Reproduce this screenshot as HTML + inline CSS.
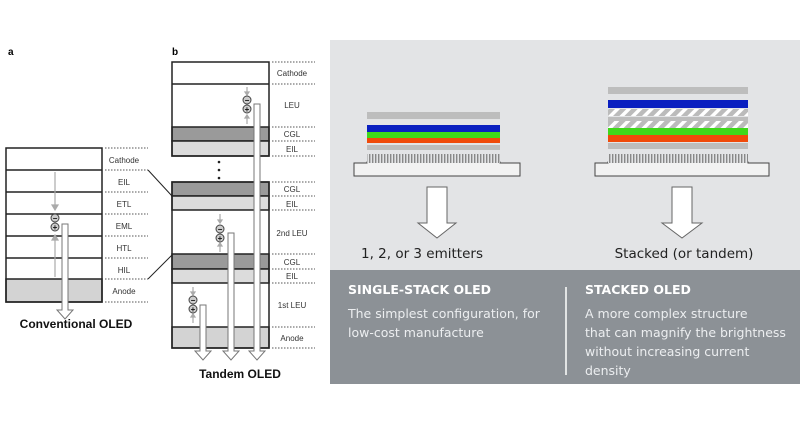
<!DOCTYPE html>
<html><head><meta charset="utf-8"><style>
html,body{margin:0;padding:0;background:#fff;}
svg{display:block;font-family:"Liberation Sans",Arial,sans-serif;}
</style></head><body>
<svg width="800" height="424" viewBox="0 0 800 424" xmlns="http://www.w3.org/2000/svg">
<defs>
<pattern id="hatch" width="8" height="8" patternUnits="userSpaceOnUse" patternTransform="rotate(45)">
<rect width="8" height="8" fill="#bbb"/><rect width="3.5" height="8" fill="#fff"/></pattern>
<pattern id="fins" x="0" y="0" width="3" height="8" patternUnits="userSpaceOnUse">
<rect width="3" height="8" fill="#e3e4e6"/><rect width="1.4" height="8" fill="#888"/></pattern>
</defs>
<rect width="800" height="424" fill="#fff"/>
<text x="8" y="55" font-size="10" font-weight="bold">a</text>
<text x="172" y="55" font-size="10" font-weight="bold">b</text>

<!-- Conventional OLED -->
<g stroke="#222" stroke-width="1.5">
<rect x="6" y="279" width="96" height="23" fill="#d3d3d3"/>
<rect x="6" y="148" width="96" height="154" fill="none"/>
<line x1="6" y1="170" x2="102" y2="170"/><line x1="6" y1="192" x2="102" y2="192"/>
<line x1="6" y1="214" x2="102" y2="214"/><line x1="6" y1="236" x2="102" y2="236"/>
<line x1="6" y1="258" x2="102" y2="258"/>
</g>
<g stroke="#555" stroke-width="1" stroke-dasharray="1.5,1.5">
<line x1="105" y1="148" x2="148" y2="148"/><line x1="105" y1="170" x2="148" y2="170"/>
<line x1="105" y1="192" x2="148" y2="192"/><line x1="105" y1="214" x2="148" y2="214"/>
<line x1="105" y1="236" x2="148" y2="236"/><line x1="105" y1="258" x2="148" y2="258"/>
<line x1="105" y1="279" x2="148" y2="279"/><line x1="105" y1="302" x2="148" y2="302"/>
</g>
<g font-size="8" fill="#333" text-anchor="middle">
<text x="124" y="163">Cathode</text><text x="124" y="185">EIL</text><text x="124" y="207">ETL</text>
<text x="124" y="229">EML</text><text x="124" y="251">HTL</text><text x="124" y="273">HIL</text>
<text x="124" y="294">Anode</text>
</g>
<line x1="148" y1="170" x2="172" y2="196" stroke="#222" stroke-width="1"/>
<line x1="148" y1="279" x2="172" y2="255" stroke="#222" stroke-width="1"/>
<g stroke="#aaa" stroke-width="1.2" fill="#aaa">
<line x1="55" y1="172" x2="55" y2="207"/><path d="M52,205 L55,210 L58,205Z"/>
<line x1="55" y1="238" x2="55" y2="277"/><path d="M52,240 L55,235 L58,240Z"/>
</g>

<!-- Tandem OLED -->
<g stroke="#222" stroke-width="1.5">
<rect x="172" y="127" width="97" height="14" fill="#9a9a9a"/>
<rect x="172" y="141" width="97" height="15" fill="#dcdcdc"/>
<rect x="172" y="62" width="97" height="94" fill="none"/>
<line x1="172" y1="84" x2="269" y2="84"/>
<rect x="172" y="182" width="97" height="14" fill="#9a9a9a"/>
<rect x="172" y="196" width="97" height="14" fill="#dcdcdc"/>
<rect x="172" y="254" width="97" height="15" fill="#9a9a9a"/>
<rect x="172" y="269" width="97" height="14" fill="#dcdcdc"/>
<rect x="172" y="327" width="97" height="21" fill="#d3d3d3"/>
<rect x="172" y="182" width="97" height="166" fill="none"/>
</g>
<g fill="#222"><circle cx="219" cy="162" r="1.3"/><circle cx="219" cy="170" r="1.3"/><circle cx="219" cy="178" r="1.3"/></g>
<g stroke="#555" stroke-width="1" stroke-dasharray="1.5,1.5">
<line x1="272" y1="62" x2="315" y2="62"/><line x1="272" y1="84" x2="315" y2="84"/>
<line x1="272" y1="127" x2="315" y2="127"/><line x1="272" y1="141" x2="315" y2="141"/>
<line x1="272" y1="156" x2="315" y2="156"/>
<line x1="272" y1="182" x2="315" y2="182"/><line x1="272" y1="196" x2="315" y2="196"/>
<line x1="272" y1="210" x2="315" y2="210"/><line x1="272" y1="254" x2="315" y2="254"/>
<line x1="272" y1="269" x2="315" y2="269"/><line x1="272" y1="283" x2="315" y2="283"/>
<line x1="272" y1="327" x2="315" y2="327"/><line x1="272" y1="348" x2="315" y2="348"/>
</g>
<g font-size="8" fill="#333" text-anchor="middle">
<text x="292" y="76">Cathode</text><text x="292" y="108">LEU</text>
<text x="292" y="137">CGL</text><text x="292" y="152">EIL</text>
<text x="292" y="192">CGL</text><text x="292" y="207">EIL</text>
<text x="292" y="236">2nd LEU</text>
<text x="292" y="265">CGL</text><text x="292" y="279">EIL</text>
<text x="292" y="308">1st LEU</text><text x="292" y="341">Anode</text>
</g>
<g stroke="#aaa" stroke-width="1.2" fill="#aaa">
<line x1="247" y1="87" x2="247" y2="93"/><path d="M245,92 L247,95 L249,92Z"/>
<line x1="247" y1="117" x2="247" y2="124"/><path d="M245,118 L247,115 L249,118Z"/>
<line x1="220" y1="214" x2="220" y2="221"/><path d="M218,220 L220,223 L222,220Z"/>
<line x1="220" y1="245" x2="220" y2="252"/><path d="M218,246 L220,243 L222,246Z"/>
<line x1="193" y1="287" x2="193" y2="293"/><path d="M191,292 L193,295 L195,292Z"/>
<line x1="193" y1="316" x2="193" y2="323"/><path d="M191,317 L193,314 L195,317Z"/>
</g>
<g fill="#fff" stroke="#777" stroke-width="1">
<path d="M62,224 H68 V310 H73 L65,319 L57,310 H62 Z"/>
<path d="M200,305 H206 V351 H211 L203,360 L195,351 H200 Z"/>
<path d="M228,233 H234 V351 H239 L231,360 L223,351 H228 Z"/>
<path d="M254,104 H260 V351 H265 L257,360 L249,351 H254 Z"/>
</g>
<g stroke="#444" stroke-width="1" fill="#ccc">
<circle cx="55" cy="218" r="4"/><circle cx="55" cy="227" r="4"/>
<circle cx="247" cy="100" r="4"/><circle cx="247" cy="109" r="4"/>
<circle cx="220" cy="229" r="4"/><circle cx="220" cy="238" r="4"/>
<circle cx="193" cy="300" r="4"/><circle cx="193" cy="309" r="4"/>
</g>
<g font-size="8" font-weight="bold" fill="#111" text-anchor="middle">
<text x="55" y="221">−</text><text x="55" y="230">+</text>
<text x="247" y="103">−</text><text x="247" y="112">+</text>
<text x="220" y="232">−</text><text x="220" y="241">+</text>
<text x="193" y="303">−</text><text x="193" y="312">+</text>
</g>
<text x="76" y="328" font-size="12" font-weight="bold" text-anchor="middle" fill="#111">Conventional OLED</text>
<text x="240" y="378" font-size="12" font-weight="bold" text-anchor="middle" fill="#111">Tandem OLED</text>

<!-- Right panel -->
<rect x="330" y="40" width="470" height="230" fill="#e3e4e6"/>
<rect x="330" y="270" width="470" height="114" fill="#8c9196"/>
<!-- stack 1 -->
<path d="M354,163 H367 V162 H500 V163 H520 V176 H354 Z" fill="#f2f2f2" stroke="#444" stroke-width="1"/>
<rect x="367" y="112" width="133" height="7" fill="#bdbdbd"/>
<rect x="367" y="125" width="133" height="7" fill="#0a1fc0"/>
<rect x="367" y="132" width="133" height="6" fill="#3fd81a"/>
<rect x="367" y="138" width="133" height="5" fill="#f04a0a"/>
<rect x="367" y="145" width="133" height="5" fill="#bdbdbd"/>
<rect x="367" y="154" width="133" height="9" fill="url(#fins)"/>
<!-- stack 2 -->
<path d="M595,163 H608 V162 H748 V163 H769 V176 H595 Z" fill="#f2f2f2" stroke="#444" stroke-width="1"/>
<rect x="608" y="87" width="140" height="7" fill="#bdbdbd"/>
<rect x="608" y="100" width="140" height="8" fill="#0a1fc0"/>
<rect x="608" y="109" width="140" height="7" fill="url(#hatch)"/>
<rect x="608" y="117" width="140" height="4" fill="#bdbdbd"/>
<rect x="608" y="121" width="140" height="7" fill="url(#hatch)"/>
<rect x="608" y="128" width="140" height="7" fill="#3fd81a"/>
<rect x="608" y="135" width="140" height="7" fill="#f04a0a"/>
<rect x="608" y="143" width="140" height="6" fill="#bdbdbd"/>
<rect x="608" y="154" width="140" height="9" fill="url(#fins)"/>
<g fill="#fff" stroke="#666" stroke-width="1">
<path d="M427,187 H447 V223 H456 L437,238 L418,223 H427 Z"/>
<path d="M672,187 H692 V223 H702 L682,238 L662,223 H672 Z"/>
</g>
<g font-family="'DejaVu Sans',sans-serif" fill="#222" font-size="13.5" text-anchor="middle">
<text x="422" y="258">1, 2, or 3 emitters</text>
<text x="684" y="258">Stacked (or tandem)</text>
</g>
<line x1="566" y1="287" x2="566" y2="375" stroke="#fff" stroke-width="1.5"/>
<g font-family="'DejaVu Sans',sans-serif">
<text x="348" y="294" font-size="12.5" font-weight="bold" fill="#fff">SINGLE-STACK OLED</text>
<text x="348" y="318" font-size="12.5" fill="#eceef0">The simplest configuration, for</text>
<text x="348" y="337" font-size="12.5" fill="#eceef0">low-cost manufacture</text>
<text x="585" y="294" font-size="12.5" font-weight="bold" fill="#fff">STACKED OLED</text>
<text x="585" y="318" font-size="12.5" fill="#eceef0">A more complex structure</text>
<text x="585" y="337" font-size="12.5" fill="#eceef0">that can magnify the brightness</text>
<text x="585" y="356" font-size="12.5" fill="#eceef0">without increasing current</text>
<text x="585" y="375" font-size="12.5" fill="#eceef0">density</text>
</g>
</svg>
</body></html>
